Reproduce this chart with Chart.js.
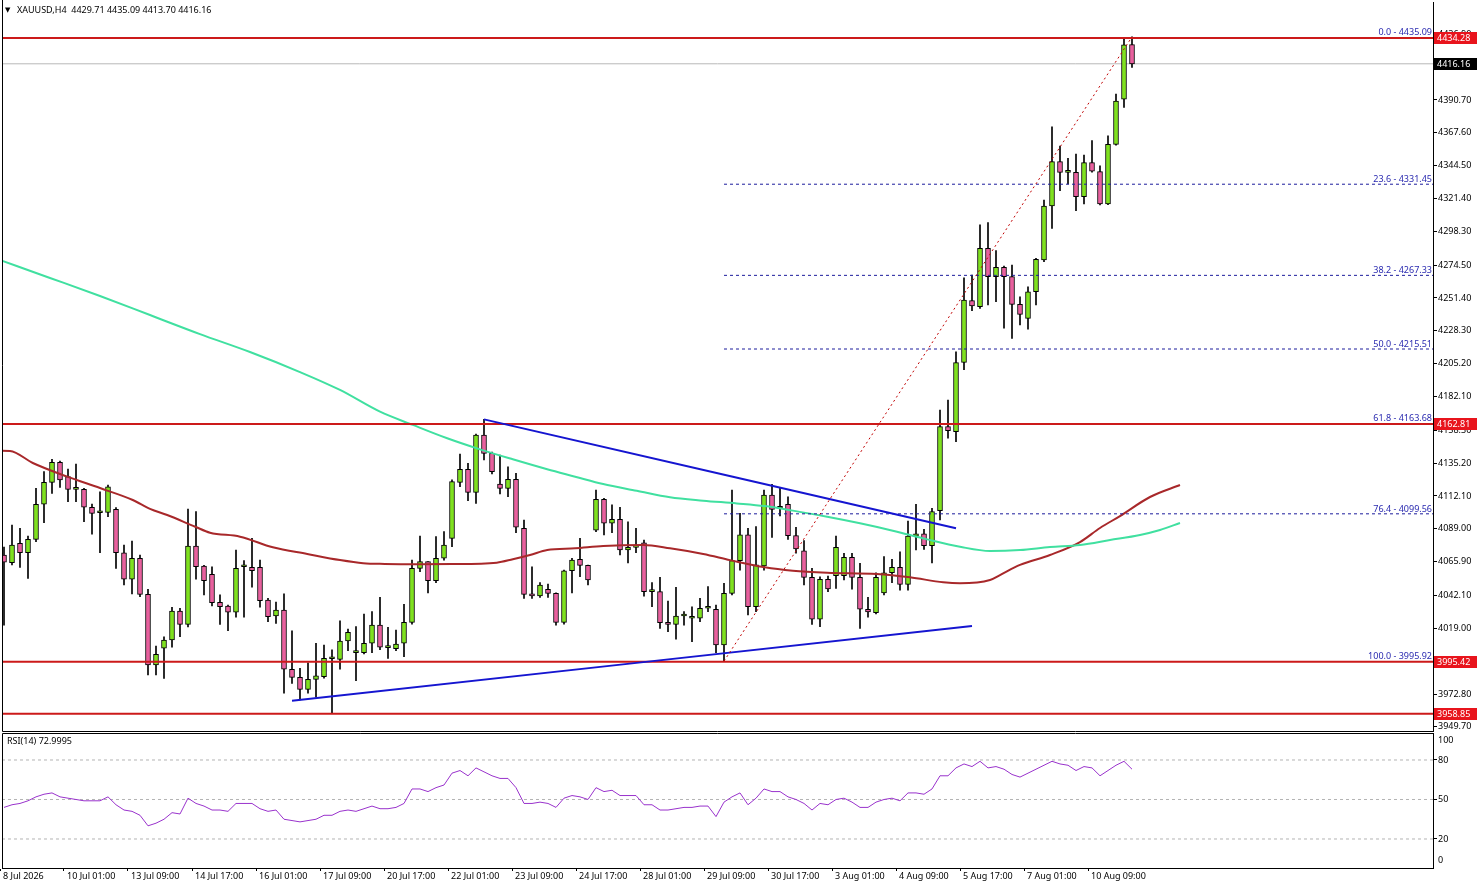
<!DOCTYPE html>
<html><head><meta charset="utf-8">
<script src="https://cdn.jsdelivr.net/npm/chart.js@4.4.0/dist/chart.umd.min.js"></script>
<style>
html,body{margin:0;padding:0;background:#fff;width:1479px;height:888px;overflow:hidden;}
#main{position:absolute;left:0;top:0;}
#rsi{position:absolute;left:0;top:733px;}
</style></head><body>
<canvas id="main" width="1479" height="733"></canvas>
<canvas id="rsi" width="1479" height="155"></canvas>
<script>
// ---------------- data ----------------
const symbol = 'XAUUSD,H4';
const opens = [4070.6,4065.2,4078.8,4072.2,4081.6,4106.3,4121.7,4135.8,4125.7,4116.8,
4116.8,4104.2,4100.3,4100.6,4102.7,4072.2,4053.5,4068.3,4042.9,3993.2,
4005.0,4010.8,4031.2,4021.8,4076.9,4062.8,4057.0,4037.3,4034.7,4030.3,
4062.3,4061.9,4061.9,4038.9,4027.7,4031.9,3990.2,3984.5,3976.1,3983.1,
3985.0,3997.6,3997.2,4010.1,4001.9,4001.9,4008.5,4021.3,4005.4,4004.7,
4008.5,4023.2,4061.2,4065.9,4052.5,4068.3,4082.3,4121.7,4130.9,4114.7,
4155.0,4142.1,4120.5,4117.5,4123.8,4089.4,4043.2,4041.8,4046.5,4043.6,
4023.2,4059.5,4067.5,4063.3,4088.0,4109.8,4092.9,4095.7,4074.1,4076.0,
4079.2,4044.8,4044.8,4023.0,4021.8,4027.7,4026.1,4026.1,4033.1,4032.4,
4007.3,4043.6,4066.6,4084.7,4034.2,4062.9,4112.8,4103.5,4106.3,4084.2,
4073.6,4054.9,4025.4,4053.5,4056.0,4056.0,4069.0,4054.9,4032.4,4030.1,
4044.0,4058.1,4061.9,4049.9,4083.9,4085.4,4077.1,4101.8,4160.9,4157.3,
4206.0,4249.5,4245.3,4286.3,4266.4,4273.0,4266.4,4246.9,4237.1,4255.8,
4278.1,4316.1,4347.3,4339.8,4339.8,4322.7,4346.6,4340.3,4317.5,4359.5,
4391.2,4429.71];
const highs = [4076.2,4091.7,4089.4,4083.9,4117.5,4129.2,4137.9,4136.7,4131.1,4134.6,
4117.5,4106.5,4115.1,4119.8,4103.9,4077.6,4080.4,4070.6,4046.5,4006.6,
4013.1,4033.8,4033.1,4102.9,4101.1,4063.3,4062.3,4042.5,4035.4,4074.1,
4066.6,4082.3,4067.0,4040.1,4037.5,4043.2,4017.3,3990.9,3994.8,4008.5,
4007.3,4003.8,4024.3,4018.5,4020.2,4029.1,4030.7,4040.8,4019.7,4017.8,
4035.9,4067.0,4083.9,4066.0,4083.5,4087.0,4123.4,4141.6,4135.1,4155.7,
4166.0,4143.0,4140.9,4132.7,4128.0,4095.2,4062.3,4051.1,4050.2,4044.0,
4060.0,4068.3,4082.3,4063.5,4116.3,4110.5,4105.8,4104.2,4094.0,4089.4,
4081.1,4051.1,4054.9,4038.2,4047.9,4030.7,4034.2,4040.1,4048.3,4035.4,
4050.7,4116.3,4099.9,4089.4,4090.5,4116.3,4120.3,4117.5,4111.6,4090.1,
4080.7,4061.2,4055.3,4055.8,4083.9,4071.8,4071.8,4064.8,4040.8,4058.1,
4069.4,4067.5,4072.9,4094.5,4106.3,4088.7,4103.4,4172.6,4179.6,4213.6,
4265.5,4267.6,4302.8,4304.4,4284.7,4273.9,4274.6,4252.3,4259.3,4279.3,
4320.3,4371.9,4358.3,4349.7,4352.7,4352.0,4362.1,4344.3,4365.4,4394.9,
4434.1,4435.09];
const lows = [4021.3,4063.6,4061.9,4054.2,4080.0,4093.3,4114.0,4118.2,4108.1,4108.1,
4094.0,4085.2,4072.2,4097.5,4061.2,4049.5,4043.2,4041.2,3986.2,3986.2,
3983.8,4005.7,4013.1,4020.0,4053.5,4042.5,4034.7,4021.8,4017.3,4026.8,
4026.8,4047.9,4033.8,4023.6,4022.5,3973.3,3980.3,3968.6,3973.3,3970.5,
3984.0,3959.2,3990.2,4003.3,3982.2,4001.0,4001.9,4004.0,3997.9,4003.3,
3999.0,4022.0,4058.8,4044.0,4051.1,4067.0,4076.4,4118.6,4108.8,4106.9,
4137.4,4127.6,4113.5,4111.6,4086.3,4040.1,4040.1,4040.8,4040.8,4021.3,
4022.0,4044.0,4055.3,4049.5,4087.0,4084.7,4086.3,4070.6,4065.1,4072.2,
4041.7,4034.2,4019.0,4016.6,4011.3,4021.3,4009.6,4023.6,4030.7,4001.9,
3995.9,4042.5,4060.0,4028.4,4030.7,4060.0,4083.0,4098.0,4081.6,4071.8,
4049.5,4021.8,4020.2,4044.8,4047.1,4053.0,4046.5,4019.0,4026.8,4029.1,
4042.5,4051.1,4045.9,4045.9,4074.1,4074.6,4065.1,4095.2,4152.7,4150.3,
4201.0,4242.4,4244.1,4246.5,4248.8,4230.1,4223.0,4232.4,4229.4,4246.5,
4277.0,4300.4,4326.9,4331.6,4312.8,4317.5,4340.0,4316.8,4317.0,4359.0,
4385.5,4413.70];
const closes = [4065.6,4077.6,4072.2,4081.6,4106.3,4121.7,4135.8,4123.4,4116.8,4116.8,
4104.2,4099.9,4100.3,4118.6,4072.2,4053.5,4068.3,4042.9,3993.2,4000.7,
4010.8,4031.2,4021.8,4076.9,4062.3,4052.5,4037.0,4034.2,4030.3,4061.2,
4062.3,4059.5,4038.4,4027.2,4031.9,3990.2,3984.5,3976.1,3983.1,3985.5,
3997.9,3997.6,4010.1,4016.2,4001.9,4008.5,4021.3,4005.7,4005.4,4008.0,
4023.2,4061.2,4065.9,4052.5,4068.3,4077.6,4122.2,4130.9,4114.7,4155.0,
4142.1,4129.2,4117.5,4123.8,4090.1,4042.9,4041.8,4049.5,4043.6,4023.2,
4059.5,4067.0,4063.3,4053.0,4109.8,4092.9,4095.7,4074.1,4076.0,4076.0,
4044.8,4044.8,4023.0,4021.8,4027.7,4027.7,4026.1,4033.1,4033.1,4007.3,
4043.6,4066.6,4084.7,4034.2,4063.6,4112.8,4102.7,4103.5,4084.2,4074.8,
4054.9,4025.4,4053.5,4046.7,4076.0,4069.0,4054.9,4032.4,4030.5,4054.9,
4058.1,4061.9,4049.9,4083.9,4085.4,4077.1,4101.1,4160.9,4158.0,4205.9,
4250.0,4245.8,4286.3,4266.4,4273.0,4266.4,4246.9,4239.9,4255.8,4278.6,
4316.1,4347.3,4339.8,4339.8,4322.7,4346.6,4340.7,4317.5,4359.5,4390.0,
4429.5,4416.16];
const rsiValues = [44,46,47,49,52,54,55,52,51,50,
49,49,49,52,46,42,41,38,30,32,
35,40,39,51,47,45,42,42,41,47,
47,47,43,41,42,35,34,33,34,35,
38,38,41,42,41,43,45,43,43,44,
47,58,58,56,59,61,70,72,68,74,
71,68,66,66,59,47,47,48,47,44,
51,53,52,50,59,56,57,53,53,53,
46,46,42,42,43,44,44,45,45,37,
48,52,55,46,51,58,56,56,52,50,
47,42,47,46,50,51,48,44,44,48,
50,51,49,55,55,54,58,68,68,74,
77,75,79,74,75,73,69,67,70,73,
76,79,77,76,72,75,74,68,72,76,
79,72.9995];
// moving averages (bar position, value)
const maRedX = [-0.5,0.75,3.6,7.9,12,16.1,18.25,20.4,23.9,25.75,29.5,33.6,37.9,42,44.9,47.6,52,56,61.6,63.6,65.75,67.9,71.4,74.9,79.9,83.25,87.4,90.75,95.1,98.6,102.9,109.1,113.25,117.4,119.5,123.25,124.5,127,130.75,134.5,137,139.5,143.25,147];
const maRedY = [4143.97,4143.8,4135.3,4125.7,4117.7,4109.3,4103.0,4098.7,4090.5,4086.3,4083.5,4076.0,4071.3,4067.0,4064.8,4064.3,4064.1,4064.2,4065.2,4067.6,4070.6,4074.1,4075.3,4076.9,4077.6,4075.3,4071.3,4067.0,4061.9,4059.5,4058.1,4057.2,4054.9,4051.4,4050.7,4053.0,4056.5,4063.6,4070.6,4079.7,4089.6,4098.0,4111.4,4119.8];
const maGreenX = [-0.5,5.75,12,18.25,24.5,30.75,37,42,47,51.1,55.4,59.5,63.6,67.9,71.4,74.9,79.1,83.25,87.4,91.6,95.1,98.6,102.9,107,111.1,115.4,119.5,123.25,127,130.75,134.5,138.25,142,144.5,147];
const maGreenY = [4278.1,4265.5,4252.8,4239.4,4226.0,4213.4,4199.3,4186.7,4171.4,4162.1,4152.7,4144.9,4137.9,4130.9,4125.7,4120.5,4115.8,4111.2,4108.8,4106.9,4105.0,4101.8,4097.5,4092.9,4087.7,4081.6,4076.4,4073.4,4074.1,4076.2,4077.6,4081.1,4084.7,4088.2,4093.1];
const timeLabels = ['8 Jul 2026','10 Jul 01:00','13 Jul 09:00','14 Jul 17:00','16 Jul 01:00','17 Jul 09:00','20 Jul 17:00','22 Jul 01:00','23 Jul 09:00','24 Jul 17:00','28 Jul 01:00','29 Jul 09:00','30 Jul 17:00','3 Aug 01:00','4 Aug 09:00','5 Aug 17:00','7 Aug 01:00','10 Aug 09:00'];
const barsPerLabel = 8;
const priceTicks = [4436.90,4413.80,4390.70,4367.60,4344.50,4321.40,4298.30,4274.50,4251.40,4228.30,4205.20,4182.10,4158.30,4135.20,4112.10,4089.00,4065.90,4042.10,4019.00,3995.90,3972.80,3949.70];
const levelPrices = [4434.28,4162.81,3995.42,3958.85];
const bidPrice = 4416.16;
const fibRatios = ['0.0','23.6','38.2','50.0','61.8','76.4','100.0'];
const fibPrices = [4435.09,4331.45,4267.33,4215.51,4163.68,4099.56,3995.92];
const fibDashed = [false,true,true,true,false,true,false]; // levels not covered by a red line
const fibBars = [90,141];
const trendUpperX = [60,119], trendUpperY = [4166.0,4089.4];
const trendLowerX = [36,121], trendLowerY = [3968.1,4020.6];
const rsiLevels = [20,50,80];
const rsiPeriod = 14;

// ---------------- layout / style ----------------
const X_MIN = -0.25, X_MAX = 178.625;
const Y_MIN = 3946.77, Y_MAX = 4459.64;
const FAM = '"Noto Sans", "DejaVu Sans", sans-serif';
const FONT = '9px ' + FAM;
Chart.defaults.font.family = FAM;
Chart.defaults.font.size = 9;
const BULL = '#7fe11f', BEAR = '#e8609e';
const n = opens.length;
const idx = opens.map((_, i) => i);
const span = (v, a = X_MIN, b = X_MAX) => [{x: a, y: v}, {x: b, y: v}];
const pts = (xs, ys) => xs.map((x, k) => ({x, y: ys[k]}));
const lineDs = (data, color, width, order, dash) => ({type: 'line', data, borderColor: color, borderWidth: width, pointRadius: 0, order, borderDash: dash || [], cubicInterpolationMode: 'monotone', fill: false});

const mainOverlay = {
  id: 'mainOverlay',
  afterDraw(chart) {
    const {ctx, chartArea: a, scales: {y}} = chart;
    ctx.save();
    ctx.strokeStyle = '#000'; ctx.lineWidth = 1;
    ctx.beginPath();
    ctx.moveTo(a.left + 0.5, 0); ctx.lineTo(a.left + 0.5, a.bottom + 0.5); ctx.lineTo(a.right, a.bottom + 0.5);
    ctx.stroke();
    // header
    ctx.fillStyle = '#000'; ctx.textAlign = 'left'; ctx.textBaseline = 'middle';
    ctx.font = '7px "DejaVu Sans"'; ctx.fillText('\u25BC', 5, 10);
    ctx.font = FONT;
    const f = v => v.toFixed(2);
    ctx.fillText(symbol + '  ' + f(opens[n-1]) + ' ' + f(highs[n-1]) + ' ' + f(lows[n-1]) + ' ' + f(closes[n-1]), 17, 10);
    // fib labels
    ctx.fillStyle = '#2a2ab0'; ctx.textAlign = 'right'; ctx.textBaseline = 'alphabetic';
    fibPrices.forEach((p, k) => ctx.fillText(fibRatios[k] + ' - ' + p.toFixed(2), a.right - 1, y.getPixelForValue(p) - 2));
    // price boxes
    const box = (price, bg) => {
      const py = Math.round(y.getPixelForValue(price));
      ctx.fillStyle = bg; ctx.fillRect(a.right + 1, py - 6, 43, 12);
      ctx.fillStyle = '#fff'; ctx.textAlign = 'left'; ctx.textBaseline = 'middle';
      ctx.fillText(price.toFixed(2), a.right + 4, py);
    };
    levelPrices.forEach(p => box(p, '#e8141c'));
    box(bidPrice, '#000');
    ctx.restore();
  }
};

new Chart(document.getElementById('main'), {
  type: 'bar',
  data: {datasets: [
    lineDs(span(bidPrice), '#b8b8b8', 1, 20),
    {type: 'bar', data: idx.map(i => ({x: i, y: [lows[i], highs[i]]})), backgroundColor: '#000', barThickness: 1, grouped: false, order: 19},
    {type: 'bar', data: idx.map(i => ({x: i, y: [opens[i], closes[i]]})),
      backgroundColor: c => closes[c.dataIndex] >= opens[c.dataIndex] ? BULL : BEAR,
      borderColor: '#000', borderWidth: 1, borderSkipped: false, barThickness: 5, minBarLength: 2, grouped: false, order: 18},
    lineDs(pts(maRedX, maRedY), '#a8282a', 2, 17),
    lineDs(pts(maGreenX, maGreenY), '#40e0a0', 2, 16),
    ...fibPrices.filter((p, k) => fibDashed[k]).map(p => lineDs(span(p, fibBars[0]), '#1c1c9c', 1, 10, [3, 3])),
    ...levelPrices.map(p => lineDs(span(p), '#cc1a1a', 2, 8)),
    lineDs(pts(trendUpperX, trendUpperY), '#1515d0', 2, 6),
    lineDs(pts(trendLowerX, trendLowerY), '#1515d0', 2, 6),
    lineDs(pts(fibBars, [fibPrices[6], fibPrices[0]]), '#c00000', 1, 4, [2, 3])
  ]},
  options: {
    responsive: false, animation: false, events: [],
    layout: {padding: {left: 2, top: 2, right: 0, bottom: 2}},
    plugins: {legend: {display: false}, tooltip: {enabled: false}},
    scales: {
      x: {type: 'linear', min: X_MIN, max: X_MAX, display: false, offset: false},
      y: {type: 'linear', position: 'right', min: Y_MIN, max: Y_MAX, bounds: 'data',
        afterBuildTicks: s => { s.ticks = priceTicks.map(v => ({value: v})); },
        afterFit: s => { s.width = 46; s.paddingTop = 0; s.paddingBottom = 0; },
        ticks: {autoSkip: false, padding: 1, color: '#000', font: {family: FAM, size: 9}, callback: v => Number(v).toFixed(2)},
        grid: {display: true, drawOnChartArea: false, drawTicks: true, tickLength: 4, color: '#000'},
        border: {display: true, color: '#000', width: 1}
      }
    }
  },
  plugins: [mainOverlay]
});

const rsiOverlay = {
  id: 'rsiOverlay',
  afterDraw(chart) {
    const {ctx, chartArea: a, scales: {y}} = chart;
    ctx.save();
    ctx.strokeStyle = '#000'; ctx.lineWidth = 1;
    ctx.beginPath();
    ctx.moveTo(a.left + 0.5, a.bottom); ctx.lineTo(a.left + 0.5, a.top + 0.5); ctx.lineTo(a.right, a.top + 0.5);
    ctx.stroke();
    ctx.fillStyle = '#000'; ctx.font = FONT; ctx.textBaseline = 'middle'; ctx.textAlign = 'left';
    ctx.fillText('RSI(' + rsiPeriod + ') ' + rsiValues[n-1].toFixed(4), 7, 8);
    ctx.fillText('100', a.right + 5, Math.max(y.getPixelForValue(100), a.top + 7));
    ctx.fillText('0', a.right + 5, Math.min(y.getPixelForValue(0), a.bottom - 8));
    ctx.restore();
  }
};

new Chart(document.getElementById('rsi'), {
  type: 'line',
  data: {datasets: [
    ...rsiLevels.map(v => lineDs(span(v), '#b4b4b4', 1, 5, [3, 3])),
    {data: idx.map(i => ({x: i, y: rsiValues[i]})), borderColor: '#9932cc', borderWidth: 1, pointRadius: 0, tension: 0, order: 1}
  ]},
  options: {
    responsive: false, animation: false, events: [],
    layout: {padding: {left: 2, top: 0, right: 0, bottom: 0}},
    plugins: {legend: {display: false}, tooltip: {enabled: false}},
    scales: {
      x: {type: 'linear', min: X_MIN, max: X_MAX, offset: false, position: 'bottom',
        afterBuildTicks: s => { s.ticks = timeLabels.map((_, k) => ({value: k * barsPerLabel - 0.5})); },
        afterFit: s => { s.height = 20; s.paddingLeft = 0; s.paddingRight = 0; },
        ticks: {autoSkip: false, maxRotation: 0, minRotation: 0, align: 'start', labelOffset: 3, padding: 0, color: '#000', font: {family: FAM, size: 9}, callback: (v, k) => timeLabels[k]},
        grid: {display: true, drawOnChartArea: false, drawTicks: true, tickLength: 3, color: '#000'},
        border: {display: true, color: '#000', width: 1}
      },
      y: {type: 'linear', position: 'right', min: -2.03, max: 100.5, bounds: 'data',
        afterBuildTicks: s => { s.ticks = rsiLevels.map(v => ({value: v})); },
        afterFit: s => { s.width = 46; s.paddingTop = 0; s.paddingBottom = 0; },
        ticks: {autoSkip: false, padding: 1, color: '#000', font: {family: FAM, size: 9}, callback: v => String(v)},
        grid: {display: true, drawOnChartArea: false, drawTicks: true, tickLength: 4, color: '#000'},
        border: {display: true, color: '#000', width: 1}
      }
    }
  },
  plugins: [rsiOverlay]
});
</script></body></html>
